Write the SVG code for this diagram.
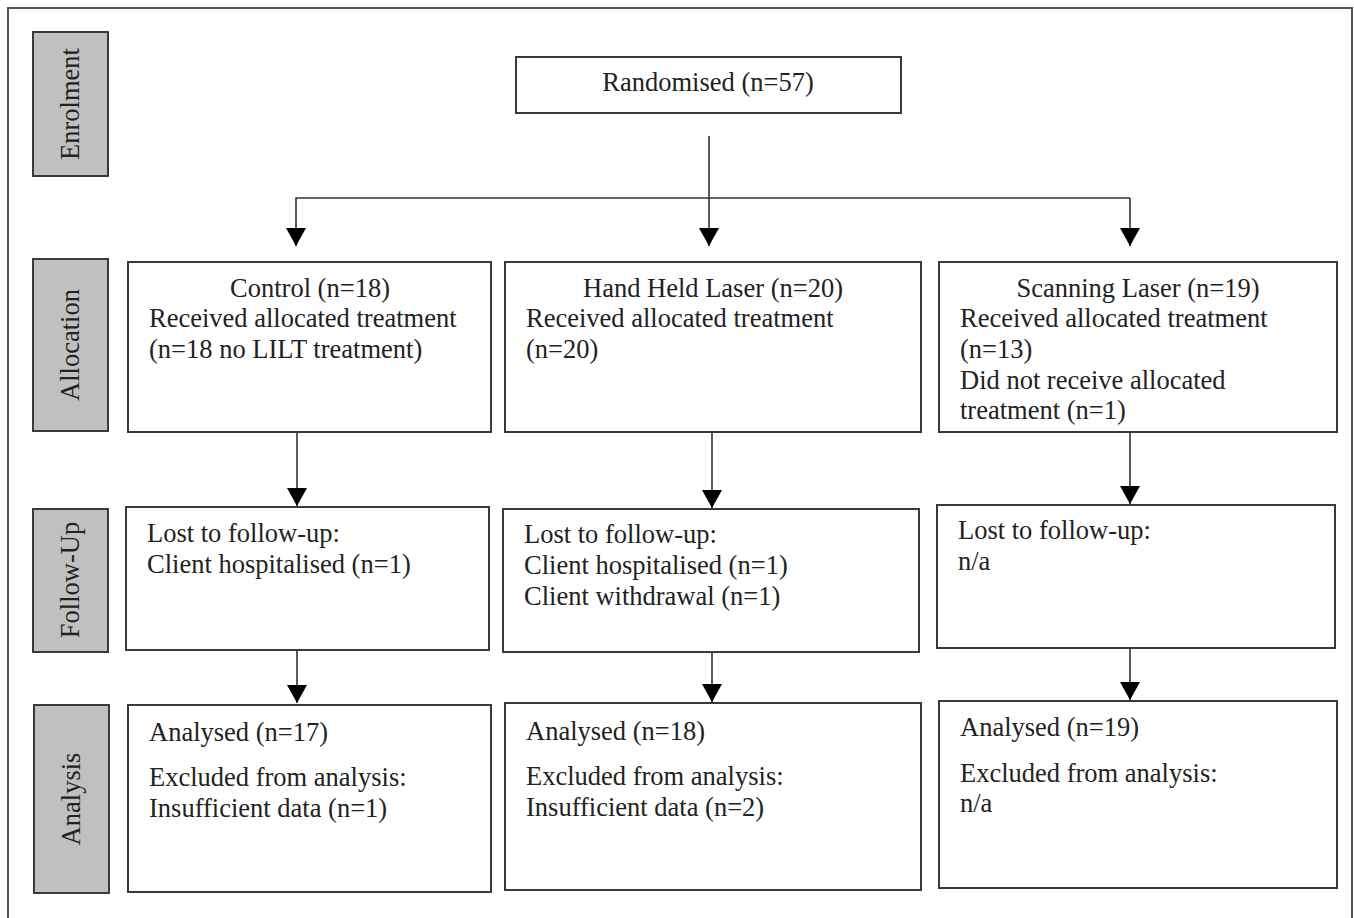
<svg xmlns="http://www.w3.org/2000/svg" width="1354" height="918" viewBox="0 0 1354 918">
<style>
.box{fill:#fff;stroke:#3a3a3a;stroke-width:2}
.lab{fill:#c0c0c0;stroke:#3a3a3a;stroke-width:2}
text{font-family:"Liberation Serif","Times New Roman",serif;font-size:26.5px;fill:#222}
.c{text-anchor:middle}
.con{stroke:#333;stroke-width:1.6;fill:none}
</style>
<defs>
<marker id="ah" viewBox="0 0 20 18" refX="10" refY="18" markerWidth="20" markerHeight="18" markerUnits="userSpaceOnUse" orient="0">
<path d="M0,0 L20,0 L10,18 Z" fill="#000"/>
</marker>
</defs>
<rect x="0" y="0" width="1354" height="918" fill="#fff"/>
<path d="M8,920 V8 H1352 V920" fill="none" stroke="#555" stroke-width="2"/>

<g id="lab-enrolment"><rect class="lab" x="33" y="32" width="75" height="144"/><text class="c" transform="translate(79,104) rotate(-90)">Enrolment</text></g>
<g id="lab-allocation"><rect class="lab" x="33" y="259" width="75" height="172"/><text class="c" transform="translate(79,345) rotate(-90)">Allocation</text></g>
<g id="lab-followup"><rect class="lab" x="33" y="509" width="75" height="143"/><text class="c" transform="translate(79,580) rotate(-90)">Follow-Up</text></g>
<g id="lab-analysis"><rect class="lab" x="34" y="705" width="75" height="188"/><text class="c" transform="translate(80,799) rotate(-90)">Analysis</text></g>

<g id="randomised"><rect class="box" x="516" y="57" width="385" height="56"/><text class="c" x="708" y="91">Randomised (n=57)</text></g>

<g id="control-alloc"><rect class="box" x="128" y="262" width="363" height="170"/>
<text class="c" x="310" y="297">Control (n=18)</text>
<text x="149" y="327">Received allocated treatment</text>
<text x="149" y="358">(n=18 no LILT treatment)</text></g>
<g id="hand-alloc"><rect class="box" x="505" y="262" width="416" height="170"/>
<text class="c" x="713" y="297">Hand Held Laser (n=20)</text>
<text x="526" y="327">Received allocated treatment</text>
<text x="526" y="358">(n=20)</text></g>
<g id="scan-alloc"><rect class="box" x="939" y="262" width="398" height="170"/>
<text class="c" x="1138" y="297">Scanning Laser (n=19)</text>
<text x="960" y="327">Received allocated treatment</text>
<text x="960" y="358">(n=13)</text>
<text x="960" y="389">Did not receive allocated</text>
<text x="960" y="419">treatment (n=1)</text></g>

<g id="control-fu"><rect class="box" x="126" y="507" width="363" height="143"/>
<text x="147" y="542">Lost to follow-up:</text>
<text x="147" y="573">Client hospitalised (n=1)</text></g>
<g id="hand-fu"><rect class="box" x="503" y="509" width="416" height="143"/>
<text x="524" y="543">Lost to follow-up:</text>
<text x="524" y="574">Client hospitalised (n=1)</text>
<text x="524" y="605">Client withdrawal (n=1)</text></g>
<g id="scan-fu"><rect class="box" x="937" y="505" width="398" height="143"/>
<text x="958" y="539">Lost to follow-up:</text>
<text x="958" y="570">n/a</text></g>

<g id="control-an"><rect class="box" x="128" y="705" width="363" height="187"/>
<text x="149" y="741">Analysed (n=17)</text>
<text x="149" y="786">Excluded from analysis:</text>
<text x="149" y="817">Insufficient data (n=1)</text></g>
<g id="hand-an"><rect class="box" x="505" y="703" width="416" height="187"/>
<text x="526" y="740">Analysed (n=18)</text>
<text x="526" y="785">Excluded from analysis:</text>
<text x="526" y="816">Insufficient data (n=2)</text></g>
<g id="scan-an"><rect class="box" x="939" y="701" width="398" height="187"/>
<text x="960" y="736">Analysed (n=19)</text>
<text x="960" y="782">Excluded from analysis:</text>
<text x="960" y="812">n/a</text></g>

<g id="connectors">
<path class="con" d="M709,136 V246" marker-end="url(#ah)"/>
<path class="con" d="M1130,198 H296 V246" marker-end="url(#ah)"/>
<path class="con" d="M1130,198 V246" marker-end="url(#ah)"/>
<path class="con" d="M297,432 V506" marker-end="url(#ah)"/>
<path class="con" d="M712,432 V508" marker-end="url(#ah)"/>
<path class="con" d="M1130,432 V504" marker-end="url(#ah)"/>
<path class="con" d="M297,650 V703" marker-end="url(#ah)"/>
<path class="con" d="M712,652 V702" marker-end="url(#ah)"/>
<path class="con" d="M1130,648 V700" marker-end="url(#ah)"/>
</g>
</svg>
